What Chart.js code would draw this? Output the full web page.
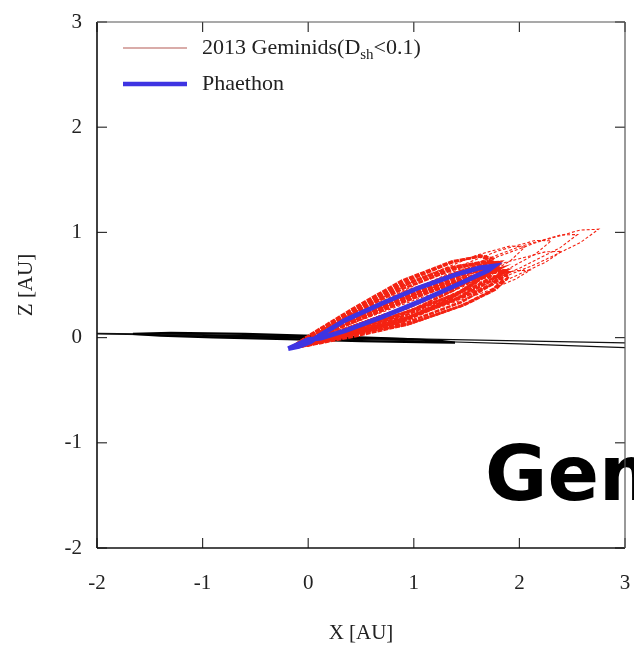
<!DOCTYPE html>
<html>
<head>
<meta charset="utf-8">
<script src="https://cdn.jsdelivr.net/npm/chart.js@4.4.0/dist/chart.umd.min.js"></script>
<style>
  html, body { margin: 0; padding: 0; background: #fff; overflow: hidden; }
  #wrap { position: relative; width: 634px; height: 646px; }
</style>
</head>
<body>
<div id="wrap"><canvas id="c" width="634" height="646"></canvas></div>
<script>
// Axis ticks (AU)
const xTicks = [-2, -1, 0, 1, 2, 3];
const zTicks = [-2, -1, 0, 1, 2, 3];

// Labels
const xTitle = 'X [AU]';
const zTitle = 'Z [AU]';
const legendGeminids = ['2013 Geminids(D', 'sh', '<0.1)'];
const legendPhaethon = 'Phaethon';
const slideWord = 'Geminids';

// 3200 Phaethon orbit projected on the X–Z plane, [X, Z] in AU
const phaethon = [
  [-0.19, -0.105], [-0.09, -0.085], [0.02, -0.04], [0.10, 0.015], [0.35, 0.165],
  [0.70, 0.325], [1.05, 0.475], [1.40, 0.600], [1.62, 0.662], [1.76, 0.680],
  [1.70, 0.635], [1.45, 0.520], [1.05, 0.340], [0.70, 0.195], [0.35, 0.065],
  [0.12, -0.005], [0.00, -0.020], [-0.10, -0.065], [-0.19, -0.105]
];

// 2013 Geminid meteoroid orbits (D_sh < 0.1), [X, Z] in AU
const gem01 = [[-0.17,-0.10],[-0.012,-0.008],[0.421,0.224],[0.914,0.473],[1.406,0.659],[1.682,0.722],[1.80,0.70],[1.682,0.582],[1.406,0.421],[0.914,0.207],[0.421,0.056],[-0.012,-0.064],[-0.17,-0.10]];
const gem02 = [[-0.17,-0.10],[-0.008,-0.017],[0.436,0.194],[0.941,0.421],[1.446,0.594],[1.729,0.656],[1.85,0.64],[1.729,0.536],[1.446,0.390],[0.941,0.193],[0.436,0.050],[-0.008,-0.065],[-0.17,-0.10]];
const gem03 = [[-0.17,-0.10],[-0.016,0.000],[0.406,0.251],[0.886,0.520],[1.366,0.716],[1.635,0.779],[1.75,0.75],[1.635,0.619],[1.366,0.444],[0.886,0.216],[0.406,0.059],[-0.016,-0.064],[-0.17,-0.10]];
const gem04 = [[-0.17,-0.10],[-0.004,-0.022],[0.451,0.176],[0.969,0.391],[1.486,0.561],[1.776,0.627],[1.90,0.62],[1.776,0.527],[1.486,0.391],[0.969,0.201],[0.451,0.056],[-0.004,-0.062],[-0.17,-0.10]];
const gem05 = [[-0.17,-0.10],[-0.020,-0.003],[0.391,0.236],[0.859,0.489],[1.326,0.661],[1.588,0.704],[1.70,0.66],[1.588,0.524],[1.326,0.355],[0.859,0.147],[0.391,0.020],[-0.020,-0.075],[-0.17,-0.10]];
const gem06 = [[-0.17,-0.10],[-0.011,-0.018],[0.427,0.194],[0.925,0.427],[1.422,0.624],[1.701,0.711],[1.82,0.72],[1.701,0.631],[1.422,0.488],[0.925,0.275],[0.427,0.098],[-0.011,-0.050],[-0.17,-0.10]];
const gem07 = [[-0.17,-0.10],[-0.008,-0.020],[0.436,0.179],[0.941,0.391],[1.446,0.539],[1.729,0.581],[1.85,0.55],[1.729,0.441],[1.446,0.301],[0.941,0.125],[0.436,0.011],[-0.008,-0.076],[-0.17,-0.10]];
const gem08 = [[-0.17,-0.10],[-0.016,0.006],[0.406,0.266],[0.886,0.541],[1.366,0.726],[1.635,0.771],[1.75,0.72],[1.635,0.571],[1.366,0.386],[0.886,0.161],[0.406,0.026],[-0.016,-0.074],[-0.17,-0.10]];
const gem09 = [[-0.17,-0.10],[-0.004,-0.026],[0.451,0.174],[0.969,0.414],[1.486,0.574],[1.776,0.619],[1.90,0.58],[1.776,0.459],[1.486,0.314],[0.969,0.134],[0.451,0.034],[-0.004,-0.066],[-0.17,-0.10]];
const gem10 = [[-0.17,-0.10],[-0.012,-0.008],[0.421,0.234],[0.914,0.499],[1.406,0.679],[1.682,0.723],[1.80,0.68],[1.682,0.543],[1.406,0.369],[0.914,0.159],[0.421,0.034],[-0.012,-0.068],[-0.17,-0.10]];
const gem11 = [[-0.17,-0.10],[-0.008,-0.012],[0.436,0.206],[0.941,0.446],[1.446,0.616],[1.729,0.657],[1.85,0.62],[1.729,0.497],[1.446,0.336],[0.941,0.146],[0.436,0.026],[-0.008,-0.072],[-0.17,-0.10]];
const gem12 = [[-0.17,-0.10],[-0.014,-0.028],[0.415,0.164],[0.903,0.377],[1.390,0.567],[1.663,0.658],[1.78,0.68],[1.663,0.608],[1.390,0.482],[0.903,0.281],[0.415,0.104],[-0.014,-0.048],[-0.17,-0.10]];
const gem13 = [[-0.17,-0.10],[-0.011,-0.033],[0.427,0.146],[0.925,0.347],[1.422,0.534],[1.701,0.629],[1.82,0.66],[1.701,0.599],[1.422,0.483],[0.925,0.290],[0.427,0.110],[-0.011,-0.045],[-0.17,-0.10]];
const gem14 = [[-0.17,-0.10],[-0.017,-0.022],[0.403,0.182],[0.881,0.407],[1.358,0.600],[1.625,0.687],[1.74,0.70],[1.625,0.617],[1.358,0.481],[0.881,0.274],[0.403,0.098],[-0.017,-0.050],[-0.17,-0.10]];
const gem15 = [[-0.17,-0.10],[-0.006,-0.029],[0.445,0.158],[0.958,0.364],[1.470,0.543],[1.757,0.626],[1.88,0.64],[1.757,0.566],[1.470,0.441],[0.958,0.250],[0.445,0.086],[-0.006,-0.053],[-0.17,-0.10]];
const gem16 = [[-0.17,-0.10],[0.064,0.014],[0.706,0.311],[1.436,0.636],[2.166,0.906],[2.575,1.022],[2.75,1.03],[2.575,0.902],[2.166,0.702],[1.436,0.408],[0.706,0.167],[0.064,-0.034],[-0.17,-0.10]];
const gem17 = [[-0.17,-0.10],[0.048,0.010],[0.646,0.296],[1.326,0.608],[2.006,0.866],[2.387,0.975],[2.55,0.98],[2.387,0.855],[2.006,0.662],[1.326,0.380],[0.646,0.152],[0.048,-0.038],[-0.17,-0.10]];
const gem18 = [[-0.17,-0.10],[0.028,0.008],[0.571,0.284],[1.189,0.585],[1.806,0.827],[2.152,0.924],[2.30,0.92],[2.152,0.794],[1.806,0.605],[1.189,0.337],[0.571,0.128],[0.028,-0.044],[-0.17,-0.10]];
const gem19 = [[-0.17,-0.10],[0.008,0.005],[0.496,0.272],[1.051,0.561],[1.606,0.787],[1.917,0.872],[2.05,0.86],[1.917,0.732],[1.606,0.549],[1.051,0.295],[0.496,0.104],[0.008,-0.051],[-0.17,-0.10]];
const gem20 = [[-0.17,-0.10],[0.036,-0.006],[0.601,0.236],[1.244,0.501],[1.886,0.721],[2.246,0.815],[2.40,0.82],[2.246,0.715],[1.886,0.551],[1.244,0.311],[0.601,0.116],[0.036,-0.046],[-0.17,-0.10]];
const gem21 = [[-0.17,-0.10],[0.012,-0.025],[0.511,0.170],[1.079,0.383],[1.646,0.560],[1.964,0.636],[2.10,0.64],[1.964,0.556],[1.646,0.424],[1.079,0.231],[0.511,0.074],[0.012,-0.057],[-0.17,-0.10]];

const denseOrbits = [gem01, gem02, gem03, gem04, gem05, gem06, gem07, gem08, gem09, gem10, gem11, gem12, gem13, gem14, gem15];
const outerOrbits = [gem16, gem17, gem18, gem19, gem20, gem21];

// Planetary orbits seen almost edge-on, [X, Z] in AU
const marsOrbit = [[-1.66,0.035],[-1.3,0.045],[-0.6,0.035],[0.2,0.012],[0.9,-0.012],[1.25,-0.03],[1.39,-0.048],[1.2,-0.046],[0.5,-0.034],[-0.2,-0.015],[-0.9,0.002],[-1.4,0.018],[-1.66,0.035]];
const earthOrbit = [[-1.0,0.018],[-0.3,0.015],[0.4,0.0],[1.0,-0.018],[0.4,-0.012],[-0.3,0.002],[-1.0,0.018]];
const outerBranchA = [[-2.3,0.045],[-1,0.028],[0,0.008],[1,-0.012],[2,-0.032],[3.3,-0.055]];
const outerBranchB = [[-2.3,0.040],[-1,0.018],[0,-0.008],[1,-0.030],[2,-0.060],[3.3,-0.105]];

const toXY = arr => arr.map(p => ({ x: p[0], y: p[1] }));

const RED = 'rgb(244,34,18)';
const BLUE = 'rgb(62,52,226)';
const SERIF = '"Liberation Serif", "Times New Roman", serif';

function lineSet(pts, color, width, dash, order) {
  return {
    data: toXY(pts), showLine: true, pointRadius: 0, borderColor: color,
    borderWidth: width, borderDash: dash || [], tension: 0, fill: false, order: order
  };
}

const datasets = [];
datasets.push(lineSet(phaethon, BLUE, 4.8, null, 0));
denseOrbits.forEach(o => datasets.push(lineSet(o, RED, 2.6, [5, 1], 1)));
outerOrbits.forEach(o => datasets.push(lineSet(o, RED, 1.1, [3, 2], 2)));
datasets.push(lineSet(marsOrbit, '#000', 2.2, null, 3));
datasets.push(lineSet(earthOrbit, '#000', 1.5, null, 3));
datasets.push(lineSet(outerBranchA, '#111', 1.2, null, 3));
datasets.push(lineSet(outerBranchB, '#111', 1.2, null, 3));

// Large slide heading word behind the plot frame
const slideText = {
  id: 'slideText',
  beforeDatasetsDraw(chart) {
    const ctx = chart.ctx;
    ctx.save();
    ctx.font = 'bold 76px "DejaVu Sans", sans-serif';
    ctx.fillStyle = '#000';
    ctx.textBaseline = 'alphabetic';
    ctx.fillText(slideWord, 485, 500);
    ctx.restore();
  }
};

// Plot box with inward tick marks on all four sides
const frame = {
  id: 'frame',
  afterDatasetsDraw(chart) {
    const { ctx, chartArea: a, scales: { x, y } } = chart;
    ctx.save();
    ctx.strokeStyle = '#333';
    ctx.lineWidth = 1.2;
    const seg = (x1, y1, x2, y2) => { ctx.beginPath(); ctx.moveTo(x1, y1); ctx.lineTo(x2, y2); ctx.stroke(); };
    xTicks.forEach(v => {
      const px = x.getPixelForValue(v);
      seg(px, a.bottom, px, a.bottom - 10);
      seg(px, a.top, px, a.top + 10);
    });
    zTicks.forEach(v => {
      const py = y.getPixelForValue(v);
      seg(a.left, py, a.left + 10, py);
      seg(a.right, py, a.right - 10, py);
    });
    ctx.strokeStyle = '#111';
    ctx.lineWidth = 1.6;
    seg(a.left, a.top, a.left, a.bottom);
    seg(a.left, a.bottom, a.right, a.bottom);
    ctx.strokeStyle = '#555';
    ctx.lineWidth = 1.2;
    seg(a.left, a.top, a.right, a.top);
    seg(a.right, a.top, a.right, a.bottom);
    ctx.restore();
  }
};

// Legend with subscripted D_sh
const legendBox = {
  id: 'legendBox',
  afterDraw(chart) {
    const ctx = chart.ctx;
    ctx.save();
    ctx.textBaseline = 'middle';
    ctx.fillStyle = '#222';
    // row 1
    ctx.strokeStyle = 'rgb(205,145,140)';
    ctx.lineWidth = 1.3;
    ctx.beginPath(); ctx.moveTo(123, 48); ctx.lineTo(187, 48); ctx.stroke();
    let tx = 202;
    ctx.font = '22px ' + SERIF;
    ctx.fillText(legendGeminids[0], tx, 48);
    tx += ctx.measureText(legendGeminids[0]).width;
    ctx.font = '15px ' + SERIF;
    ctx.fillText(legendGeminids[1], tx, 55);
    tx += ctx.measureText(legendGeminids[1]).width;
    ctx.font = '22px ' + SERIF;
    ctx.fillText(legendGeminids[2], tx, 48);
    // row 2
    ctx.strokeStyle = BLUE;
    ctx.lineWidth = 4.5;
    ctx.beginPath(); ctx.moveTo(123, 84); ctx.lineTo(187, 84); ctx.stroke();
    ctx.fillText(legendPhaethon, 202, 84);
    ctx.restore();
  }
};

const noEdgePadding = s => { s.paddingLeft = 0; s.paddingRight = 0; s.paddingTop = 0; s.paddingBottom = 0; };

new Chart(document.getElementById('c'), {
  type: 'scatter',
  data: { datasets },
  options: {
    responsive: false,
    animation: false,
    devicePixelRatio: 1,
    layout: { padding: { top: 22, right: 9, left: 0, bottom: 0 } },
    plugins: { legend: { display: false }, tooltip: { enabled: false } },
    scales: {
      x: {
        type: 'linear', min: -2, max: 3,
        afterBuildTicks: s => { s.ticks = xTicks.map(v => ({ value: v })); },
        afterFit: s => { s.height = 98; noEdgePadding(s); },
        grid: { display: false, drawTicks: false },
        border: { display: false },
        ticks: { padding: 23, color: '#222', font: { family: SERIF, size: 21 } },
        title: { display: true, text: xTitle, color: '#222', font: { family: SERIF, size: 21 }, padding: { top: 0, bottom: 0 } }
      },
      y: {
        type: 'linear', min: -2, max: 3,
        afterBuildTicks: s => { s.ticks = zTicks.map(v => ({ value: v })); },
        afterFit: s => { s.width = 97; noEdgePadding(s); },
        grid: { display: false, drawTicks: false },
        border: { display: false },
        ticks: { padding: 15, color: '#222', font: { family: SERIF, size: 21 } },
        title: { display: true, text: zTitle, color: '#222', font: { family: SERIF, size: 21 }, padding: { top: 14, bottom: 0 } }
      }
    }
  },
  plugins: [slideText, frame, legendBox]
});
</script>
</body>
</html>
